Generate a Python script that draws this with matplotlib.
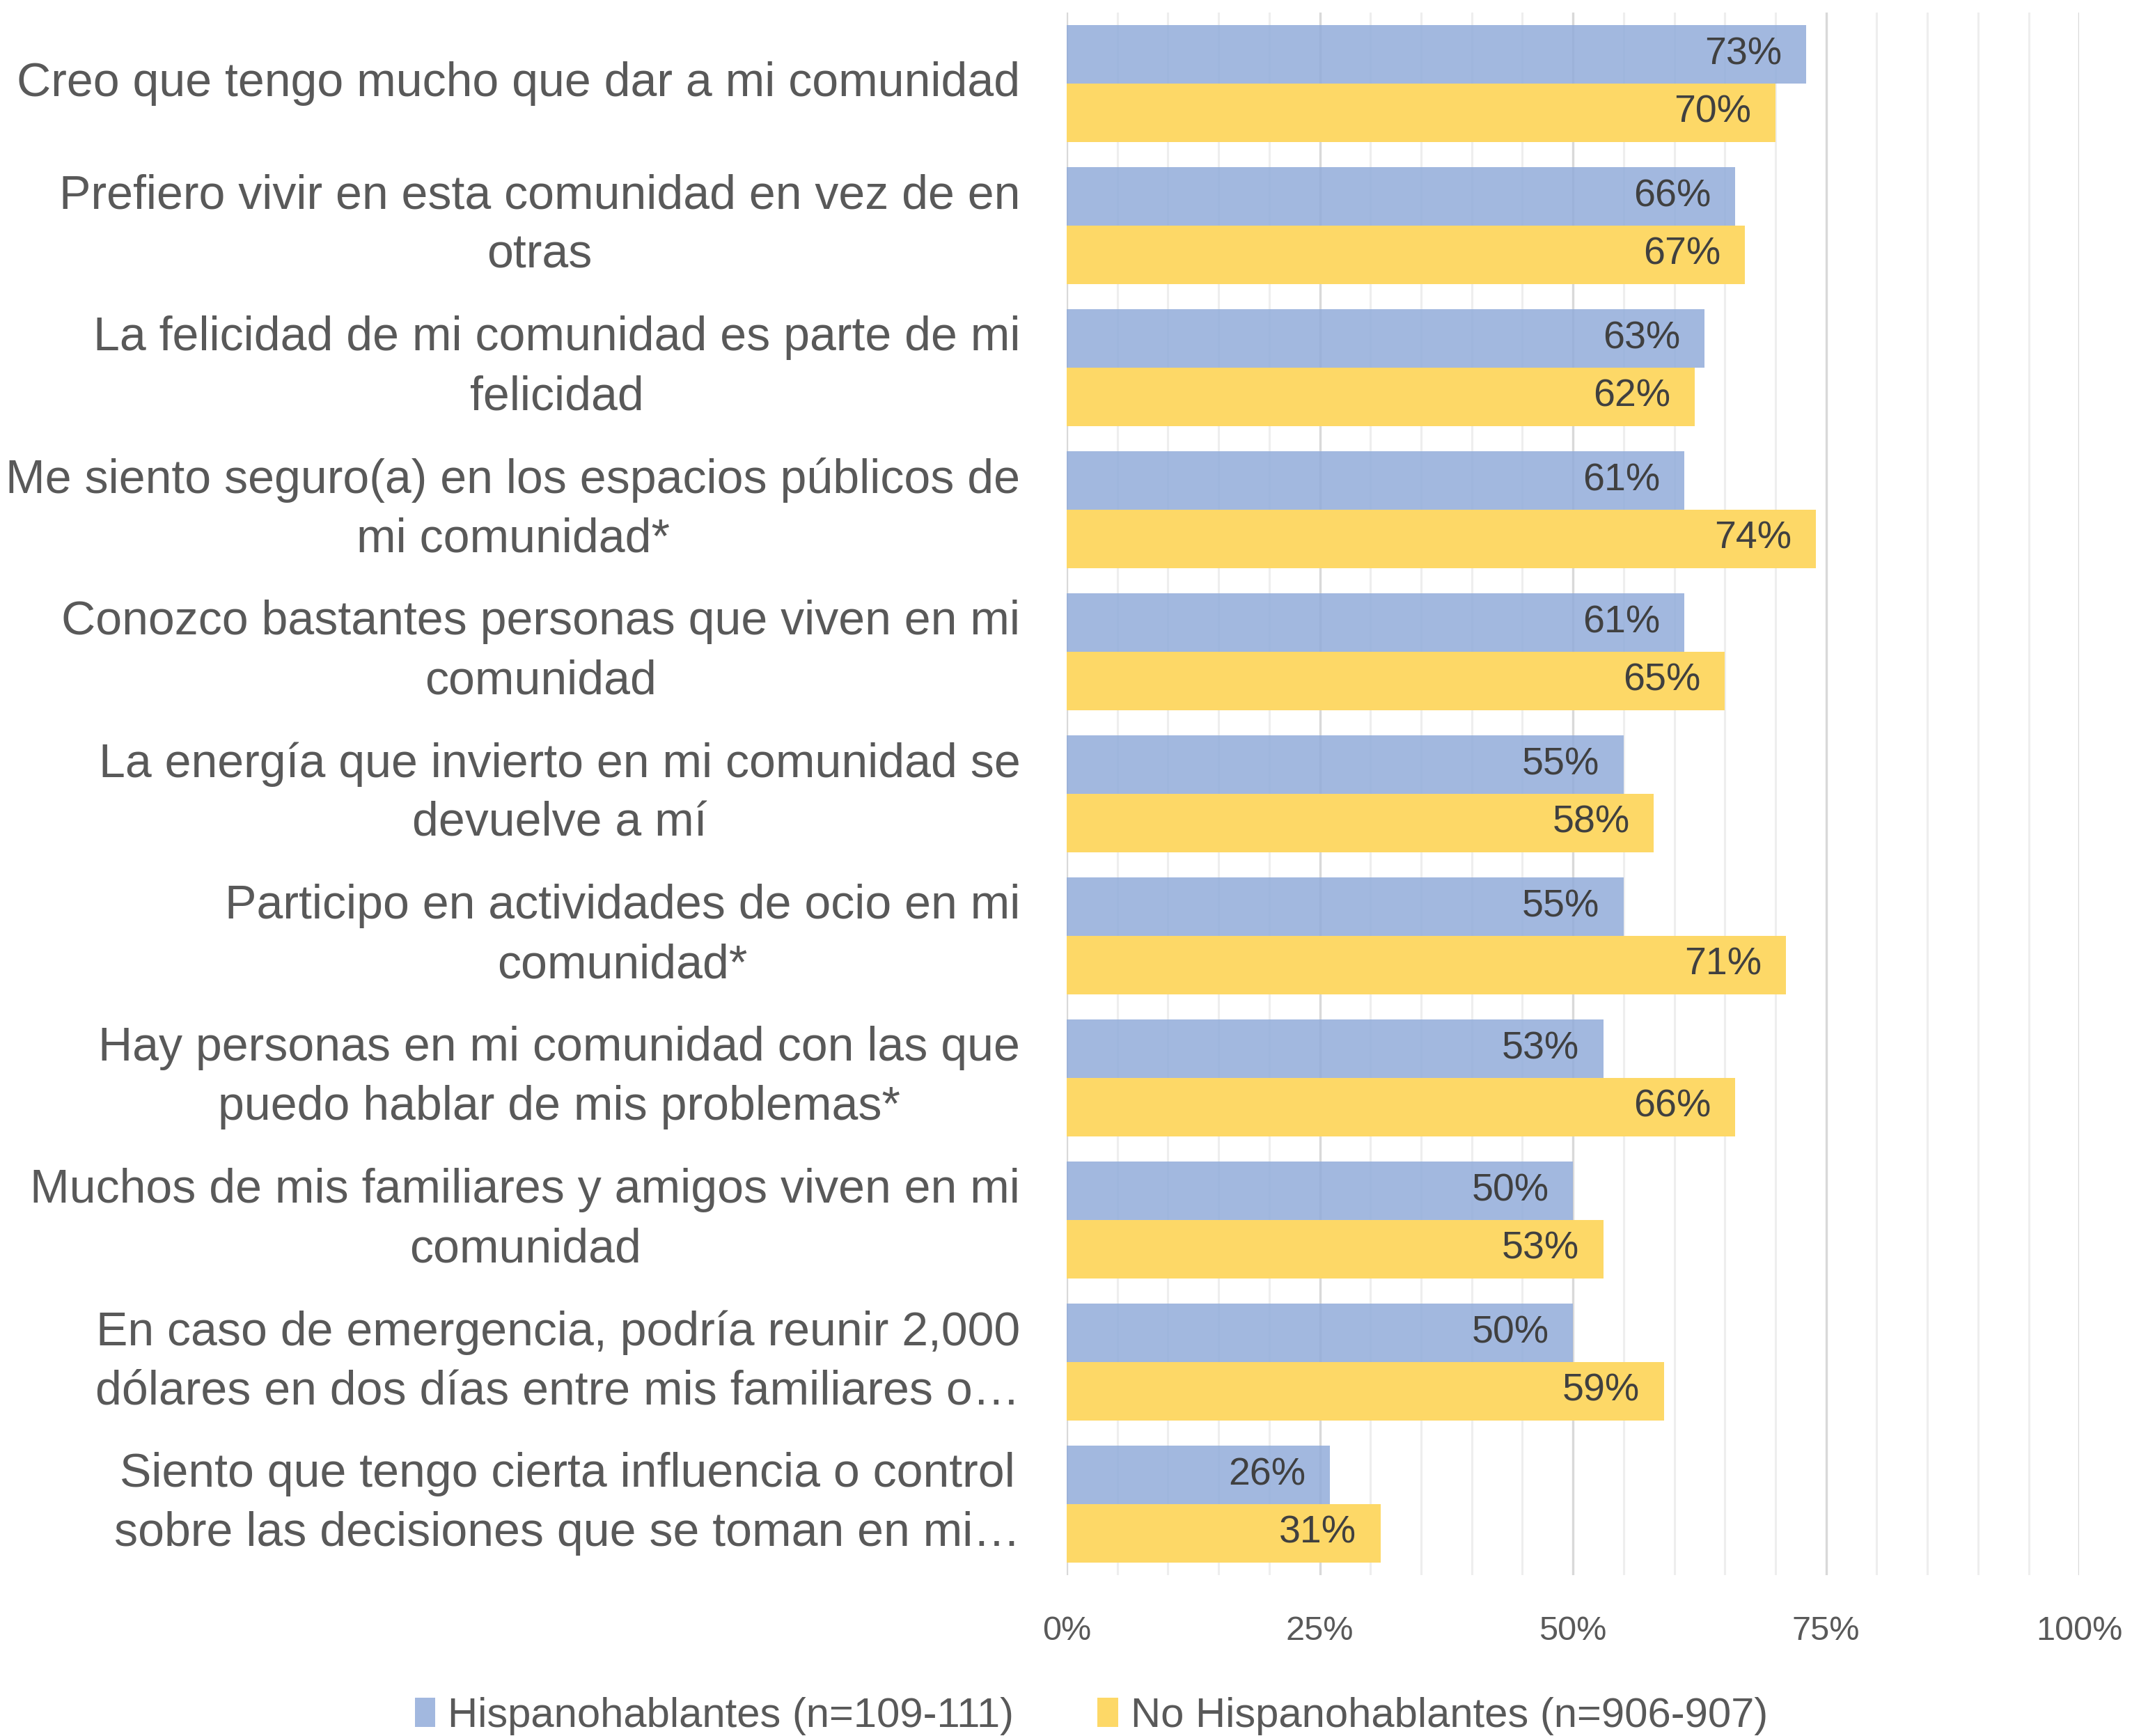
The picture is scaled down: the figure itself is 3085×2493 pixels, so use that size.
import matplotlib.pyplot as plt
import numpy as np

plt.rcParams['font.family'] = ['Liberation Sans', 'DejaVu Sans']

categorias = [
    "Creo que tengo mucho que dar a mi comunidad",
    "Prefiero vivir en esta comunidad en vez de en\notras",
    "La felicidad de mi comunidad es parte de mi\nfelicidad",
    "Me siento seguro(a) en los espacios públicos de\nmi comunidad*",
    "Conozco bastantes personas que viven en mi\ncomunidad",
    "La energía que invierto en mi comunidad se\ndevuelve a mí",
    "Participo en actividades de ocio en mi\ncomunidad*",
    "Hay personas en mi comunidad con las que\npuedo hablar de mis problemas*",
    "Muchos de mis familiares y amigos viven en mi\ncomunidad",
    "En caso de emergencia, podría reunir 2,000\ndólares en dos días entre mis familiares o…",
    "Siento que tengo cierta influencia o control\nsobre las decisiones que se toman en mi…",
]
hispano = [73, 66, 63, 61, 61, 55, 55, 53, 50, 50, 26]
no_hispano = [70, 67, 62, 74, 65, 58, 71, 66, 53, 59, 31]
series_names = ["Hispanohablantes (n=109-111)", "No Hispanohablantes (n=906-907)"]

azul = "#92ACDA"
amarillo = "#FDD867"
gris_texto = "#595959"

fig = plt.figure(figsize=(30.85, 24.93), dpi=100)
ax = fig.add_axes([0.4966, 0.0927, 0.4714, 0.9001])

y = np.arange(len(categorias))
h = 0.41

# gridlines: light every 5%, darker every 25%
for v in range(0, 101, 5):
    if v % 25 == 0:
        ax.axvline(v, color="#D9D9D9", lw=2.4, zorder=0)
    else:
        ax.axvline(v, color="#EEEEEE", lw=2.2, zorder=0)

b1 = ax.barh(y - h / 2, hispano, height=h, color=azul, alpha=0.85, zorder=2,
             label=series_names[0])
b2 = ax.barh(y + h / 2, no_hispano, height=h, color=amarillo, zorder=1,
             label=series_names[1])

for bars, vals in [(b1, hispano), (b2, no_hispano)]:
    for rect, v in zip(bars, vals):
        ax.annotate(f"{v}%", (v, rect.get_y() + rect.get_height() / 2),
                    xytext=(-25, 0), textcoords="offset points",
                    ha="right", va="center", fontsize=40, color="#404040", zorder=3)

ax.set_ylim(len(categorias) - 0.5, -0.5)
ax.set_xlim(0, 100)
ax.set_xticks([0, 25, 50, 75, 100])
ax.set_xticklabels(["0%", "25%", "50%", "75%", "100%"])
ax.tick_params(axis="x", length=0, pad=42, labelsize=35, labelcolor=gris_texto)
ax.set_yticks([])
for s in ax.spines.values():
    s.set_visible(False)

for i, lab in enumerate(categorias):
    ax.annotate(lab, (0, i), xytext=(-48, 0), textcoords="offset points",
                ha="right", va="center", multialignment="center",
                fontsize=49, color=gris_texto, linespacing=1.42)

fig.legend(handles=[b1, b2], loc="center", bbox_to_anchor=(0.508, 1 - 2464 / 2493),
           ncol=2, frameon=False, fontsize=43, labelcolor=gris_texto,
           handlelength=0.5, handleheight=0.7, handletextpad=0.3,
           columnspacing=2.0)

fig.savefig("out.png", dpi=100)
